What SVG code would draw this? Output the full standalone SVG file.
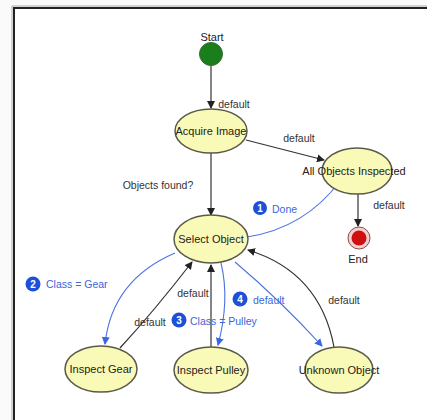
<svg xmlns="http://www.w3.org/2000/svg" width="427" height="420" viewBox="0 0 427 420">
<defs>
<style>
.st{fill:#fafab8;stroke:#5a5a4a;stroke-width:1.5}
.t{font-family:"Liberation Sans",Arial,sans-serif;font-size:11px;fill:#222;text-anchor:middle;dominant-baseline:central}
.lb{font-family:"Liberation Sans",Arial,sans-serif;font-size:10.5px;fill:#333;text-anchor:middle;dominant-baseline:central}
.lbb{font-family:"Liberation Sans",Arial,sans-serif;font-size:10.5px;fill:#3a66d8;text-anchor:start;dominant-baseline:central}
.num{font-family:"Liberation Sans",Arial,sans-serif;font-size:10px;font-weight:bold;fill:#fff;text-anchor:middle;dominant-baseline:central}
.k{fill:none;stroke:#333;stroke-width:1.2}
.b{fill:none;stroke:#4a72e0;stroke-width:1.1}
.nc{fill:#1f4fd6}
</style>
<marker id="ak" markerWidth="8" markerHeight="8" refX="7" refY="4" orient="auto" markerUnits="userSpaceOnUse">
<path d="M0,0 L8,4 L0,8 z" fill="#222"/>
</marker>
<marker id="ab" markerWidth="8" markerHeight="8" refX="7" refY="4" orient="auto" markerUnits="userSpaceOnUse">
<path d="M0,0 L8,4 L0,8 z" fill="#3a66e0"/>
</marker>
</defs>
<rect x="0" y="0" width="427" height="420" fill="#fafafa"/>
<rect x="14" y="8" width="413" height="412" fill="#ffffff"/>
<path d="M14,420 L14,8 L427,8" fill="none" stroke="#222" stroke-width="2"/>
<path d="M12,420 L12,6 L427,6" fill="none" stroke="#aaa" stroke-width="1"/>

<g id="connectors">
<path class="k" d="M211,66 L211,108" marker-end="url(#ak)"/>
<text class="lb" x="234" y="104">default</text>
<path class="k" d="M246,140 L324,160" marker-end="url(#ak)"/>
<text class="lb" x="299" y="138">default</text>
<path class="k" d="M211,153 L211,215" marker-end="url(#ak)"/>
<text class="lb" x="158" y="185">Objects found?</text>
<path class="k" d="M358,194 L358,226" marker-end="url(#ak)"/>
<text class="lb" x="389" y="205">default</text>
<path class="b" d="M247,237 Q305,228 340,181" marker-end="url(#ab)"/>
<circle class="nc" cx="260" cy="208" r="7"/>
<text class="num" x="260" y="208">1</text>
<text class="lbb" x="272" y="209">Done</text>
<path class="b" d="M175,253 Q112,280 105,344" marker-end="url(#ab)"/>
<circle class="nc" cx="33" cy="284" r="7.5"/>
<text class="num" x="33" y="284">2</text>
<text class="lbb" x="46" y="284">Class = Gear</text>
<path class="k" d="M120,348 Q155,310 192,262" marker-end="url(#ak)"/>
<text class="lb" x="150" y="322">default</text>
<path class="k" d="M211,347 L211,265" marker-end="url(#ak)"/>
<text class="lb" x="193" y="293">default</text>
<path class="b" d="M221,263 Q230,300 218,345" marker-end="url(#ab)"/>
<circle class="nc" cx="179" cy="320" r="7.5"/>
<text class="num" x="179" y="320">3</text>
<text class="lbb" x="190" y="321">Class = Pulley</text>
<path class="b" d="M235,262 Q280,300 322,346" marker-end="url(#ab)"/>
<circle class="nc" cx="240" cy="299" r="7.5"/>
<text class="num" x="240" y="299">4</text>
<text class="lbb" x="253" y="300">default</text>
<path class="k" d="M334,347 Q320,272 248,250" marker-end="url(#ak)"/>
<text class="lb" x="344" y="300">default</text>
</g>

<g id="start">
<text class="t" x="212" y="37">Start</text>
<circle cx="211" cy="54" r="11.5" fill="#1a7f1a" stroke="#3a6a3a" stroke-width="1"/>
</g>
<g id="acquire-image">
<ellipse class="st" cx="211" cy="131" rx="36" ry="22"/>
<text class="t" x="211" y="131">Acquire Image</text>
</g>
<g id="all-objects-inspected">
<ellipse class="st" cx="357" cy="171" rx="35" ry="23"/>
<text class="t" x="354" y="171">All Objects Inspected</text>
</g>
<g id="end">
<circle cx="359" cy="238" r="11" fill="#f4d0d0" stroke="#8a4a4a" stroke-width="1"/>
<circle cx="359" cy="238" r="7.5" fill="#d01010"/>
<text class="t" x="358" y="259">End</text>
</g>
<g id="select-object">
<ellipse class="st" cx="211" cy="239" rx="37" ry="24"/>
<text class="t" x="211" y="239">Select Object</text>
</g>
<g id="inspect-gear">
<ellipse class="st" cx="101" cy="369" rx="36" ry="23"/>
<text class="t" x="101" y="369">Inspect Gear</text>
</g>
<g id="inspect-pulley">
<ellipse class="st" cx="211" cy="370" rx="37" ry="23"/>
<text class="t" x="211" y="370">Inspect Pulley</text>
</g>
<g id="unknown-object">
<ellipse class="st" cx="339" cy="370" rx="34" ry="23"/>
<text class="t" x="339" y="370">Unknown Object</text>
</g>
</svg>
